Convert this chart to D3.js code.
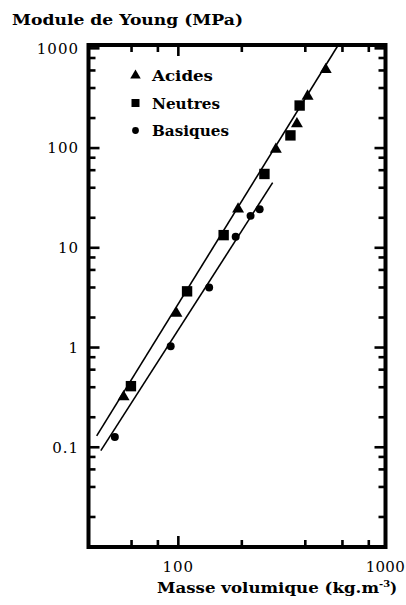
<!DOCTYPE html>
<html>
<head>
<meta charset="utf-8">
<script src="https://cdn.jsdelivr.net/npm/d3@7"></script>
<style>
  html, body { margin: 0; padding: 0; background: #fff; }
  svg { display: block; }
  text { font-family: "DejaVu Serif", "Liberation Serif", serif; fill: #000; }
</style>
</head>
<body>
<script>
// ---- Data ----
const acidX    = [55, 98, 192, 290, 365, 410, 500];
const acidY    = [0.32, 2.2, 24.4, 97, 175, 331, 612];
const neutreX  = [59.6, 110, 164, 256, 340, 376];
const neutreY  = [0.41, 3.66, 13.4, 55, 134, 267];
const basiqueX = [50, 92, 140, 187, 220, 243];
const basiqueY = [0.127, 1.03, 4.0, 12.9, 20.9, 24.4];

// fitted lines (end points)
const fitUpperX = [41.0, 573];
const fitUpperY = [0.130, 1080];
const fitLowerX = [42.9, 280];
const fitLowerY = [0.0924, 45];

const xDomain = [37.5, 960];
const yDomain = [0.01, 1080];
const xMajor = [100, 1000];
const xMinor = [60, 80, 200, 400, 600, 800];
const yMajor = [0.1, 1, 10, 100, 1000];
const yMinor = [0.02, 0.04, 0.06, 0.08, 0.2, 0.4, 0.6, 0.8, 2, 4, 6, 8, 20, 40, 60, 80, 200, 400, 600, 800];
const xTickLabels = ["100", "1000"];
const yTickLabels = ["0.1", "1", "10", "100", "1000"];
const legendLabels = ["Acides", "Neutres", "Basiques"];
const yTitle = "Module de Young (MPa)";
const xTitle = "Masse volumique (kg.m";
const xTitleSup = "-3";

// ---- Layout ----
const W = 406, H = 605;
const L = 88.5, R = 385.5, T = 45, B = 547;

const x = d3.scaleLog().domain(xDomain).range([L, R]);
const y = d3.scaleLog().domain(yDomain).range([B, T]);

const svg = d3.select("body").append("svg").attr("width", W).attr("height", H);

svg.append("defs").append("clipPath").attr("id", "plot")
  .append("rect").attr("x", L).attr("y", T).attr("width", R - L).attr("height", B - T);

// ---- Ticks (inward, all four sides) ----
const tickG = svg.append("g").attr("stroke", "#000").attr("stroke-width", 2.6);
const majL = 11, minL = 7;
const xt = xMajor.filter(v => v <= xDomain[1]).map(v => ({v, len: majL}))
  .concat(xMinor.map(v => ({v, len: minL})));
xt.forEach(t => {
  tickG.append("line").attr("x1", x(t.v)).attr("x2", x(t.v)).attr("y1", B).attr("y2", B - t.len);
  tickG.append("line").attr("x1", x(t.v)).attr("x2", x(t.v)).attr("y1", T).attr("y2", T + t.len);
});
const yt = yMajor.map(v => ({v, len: majL})).concat(yMinor.map(v => ({v, len: minL})));
yt.forEach(t => {
  tickG.append("line").attr("y1", y(t.v)).attr("y2", y(t.v)).attr("x1", L).attr("x2", L + t.len);
  tickG.append("line").attr("y1", y(t.v)).attr("y2", y(t.v)).attr("x1", R).attr("x2", R - t.len);
});

// frame
svg.append("rect").attr("x", L).attr("y", T).attr("width", R - L).attr("height", B - T)
  .attr("fill", "none").attr("stroke", "#000").attr("stroke-width", 4);

// ---- Tick labels ----
yMajor.forEach((v, i) => {
  svg.append("text").attr("x", 79).attr("y", y(v)).attr("dy", "0.36em")
    .attr("text-anchor", "end").attr("font-size", 15)
    .attr("letter-spacing", 1)
    .text(yTickLabels[i]);
});
xMajor.forEach((v, i) => {
  const last = v > xDomain[1];
  svg.append("text").attr("x", last ? 405 : x(v)).attr("y", 572)
    .attr("text-anchor", last ? "end" : "middle").attr("font-size", 15)
    .attr("letter-spacing", last ? 0.3 : 1)
    .text(xTickLabels[i]);
});

// ---- Titles ----
svg.append("text").attr("x", 12).attr("y", 25)
  .attr("font-size", 15).attr("font-weight", "bold")
  .attr("textLength", 231).attr("lengthAdjust", "spacingAndGlyphs")
  .text(yTitle);

const xt2 = svg.append("text").attr("x", 157).attr("y", 593)
  .attr("font-size", 15).attr("font-weight", "bold");
xt2.append("tspan").attr("textLength", 222).attr("lengthAdjust", "spacingAndGlyphs").text(xTitle);
xt2.append("tspan").attr("font-size", 10).attr("dy", -6).text(xTitleSup);
xt2.append("tspan").attr("dy", 6).text(")");

// ---- Fit lines ----
const lineGen = d3.line().x(d => x(d[0])).y(d => y(d[1]));
const lines = svg.append("g").attr("clip-path", "url(#plot)")
  .attr("fill", "none").attr("stroke", "#000").attr("stroke-width", 1.6);
lines.append("path").attr("d", lineGen(d3.zip(fitUpperX, fitUpperY)));
lines.append("path").attr("d", lineGen(d3.zip(fitLowerX, fitLowerY)));

// ---- Markers ----
const symTri = d3.symbol().type(d3.symbolTriangle).size(62);
const symSq = d3.symbol().type(d3.symbolSquare).size(108);
const symCi = d3.symbol().type(d3.symbolCircle).size(50);

const series = [
  {xs: acidX, ys: acidY, sym: symTri},
  {xs: neutreX, ys: neutreY, sym: symSq},
  {xs: basiqueX, ys: basiqueY, sym: symCi}
];
series.forEach(s => {
  svg.append("g").selectAll("path").data(d3.zip(s.xs, s.ys)).join("path")
    .attr("d", s.sym())
    .attr("transform", d => `translate(${x(d[0])},${y(d[1])})`)
    .attr("fill", "#000");
});

// ---- Legend ----
const legSyms = [
  d3.symbol().type(d3.symbolTriangle).size(48),
  d3.symbol().type(d3.symbolSquare).size(64),
  d3.symbol().type(d3.symbolCircle).size(36)
];
const legY = [75.5, 103, 130.5];
const legW = [61, 68, 77];
legendLabels.forEach((lab, i) => {
  svg.append("path").attr("d", legSyms[i]()).attr("transform", `translate(135.5,${legY[i]})`).attr("fill", "#000");
  svg.append("text").attr("x", 152).attr("y", legY[i] + 5.5)
    .attr("font-size", 15).attr("font-weight", "bold")
    .attr("textLength", legW[i]).attr("lengthAdjust", "spacingAndGlyphs")
    .text(lab);
});
</script>
</body>
</html>
